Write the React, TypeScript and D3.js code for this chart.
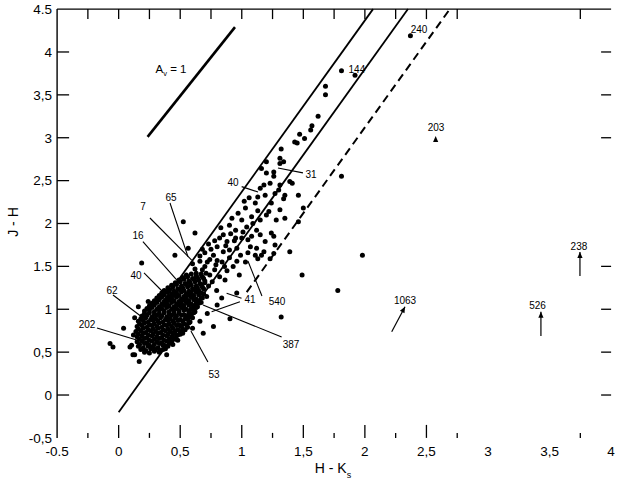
import React from "react";
import * as d3 from "d3";

const W = 618;
const H = 486;

// Axis tick values / labels
const xLabelValues = [-0.5, 0, 0.5, 1, 1.5, 2, 2.5, 3, 3.5, 4];
const xLabelTexts = ["-0.5", "0", "0,5", "1", "1,5", "2", "2,5", "3", "3,5", "4"];
const yLabelValues = [-0.5, 0, 0.5, 1, 1.5, 2, 2.5, 3, 3.5, 4, 4.5];
const yLabelTexts = ["-0,5", "0", "0,5", "1", "1.5", "2", "2,5", "3", "3,5", "4", "4.5"];
const xMajorBottom = [0, 0.5, 1, 1.5, 2, 2.5];
const xMinorBottom = [-0.25, 0.25, 0.75, 1.25, 1.75, 2.25, 2.75, 3.75];
const xTopTicks = [-0.25, 0, 0.25, 0.5, 0.75, 1, 1.25, 1.5, 1.75, 2, 2.25, 2.5, 2.75, 3.75];
const yLeftTicks = [0, 0.5, 1, 1.5, 2, 2.5, 3, 3.5, 4];
const yRightTicks = [0, 0.5, 1, 1.5, 3, 3.5, 4];

// Dense central cluster (H-Ks, J-H)
const clusterPoints: [number, number][] = [
  [0.21, 0.50], [0.25, 0.49], [0.29, 0.51], [0.33, 0.50], [0.36, 0.53],
  [0.16, 0.57], [0.20, 0.55], [0.24, 0.57], [0.28, 0.56], [0.32, 0.55], [0.36, 0.58], [0.40, 0.57],
  [0.15, 0.62], [0.19, 0.63], [0.23, 0.61], [0.27, 0.63], [0.31, 0.62], [0.35, 0.61], [0.39, 0.63], [0.43, 0.62], [0.46, 0.65],
  [0.15, 0.68], [0.19, 0.69], [0.23, 0.67], [0.27, 0.69], [0.31, 0.68], [0.35, 0.67], [0.39, 0.69], [0.43, 0.68], [0.47, 0.69], [0.50, 0.71],
  [0.14, 0.74], [0.18, 0.75], [0.22, 0.73], [0.26, 0.75], [0.30, 0.74], [0.34, 0.73], [0.38, 0.75], [0.42, 0.74], [0.46, 0.75], [0.50, 0.74], [0.54, 0.76],
  [0.15, 0.80], [0.19, 0.81], [0.23, 0.79], [0.27, 0.81], [0.31, 0.80], [0.35, 0.79], [0.39, 0.81], [0.43, 0.80], [0.47, 0.81], [0.51, 0.80], [0.55, 0.82], [0.58, 0.85],
  [0.16, 0.86], [0.20, 0.87], [0.24, 0.85], [0.28, 0.87], [0.32, 0.86], [0.36, 0.85], [0.40, 0.87], [0.44, 0.86], [0.48, 0.87], [0.52, 0.86], [0.56, 0.88], [0.60, 0.90],
  [0.19, 0.92], [0.23, 0.93], [0.27, 0.91], [0.31, 0.93], [0.35, 0.92], [0.39, 0.91], [0.43, 0.93], [0.47, 0.92], [0.51, 0.93], [0.55, 0.92], [0.59, 0.94], [0.62, 0.97],
  [0.21, 0.98], [0.25, 0.99], [0.29, 0.97], [0.33, 0.99], [0.37, 0.98], [0.41, 0.97], [0.45, 0.99], [0.49, 0.98], [0.53, 0.99], [0.57, 0.98], [0.61, 1.00], [0.64, 1.03],
  [0.25, 1.04], [0.29, 1.05], [0.33, 1.03], [0.37, 1.05], [0.41, 1.04], [0.45, 1.03], [0.49, 1.05], [0.53, 1.04], [0.57, 1.05], [0.61, 1.04], [0.65, 1.07],
  [0.29, 1.10], [0.33, 1.11], [0.37, 1.09], [0.41, 1.11], [0.45, 1.10], [0.49, 1.09], [0.53, 1.11], [0.57, 1.10], [0.61, 1.11], [0.65, 1.10], [0.68, 1.13],
  [0.33, 1.16], [0.37, 1.17], [0.41, 1.15], [0.45, 1.17], [0.49, 1.16], [0.53, 1.15], [0.57, 1.17], [0.61, 1.16], [0.65, 1.17], [0.69, 1.18],
  [0.37, 1.22], [0.41, 1.23], [0.45, 1.21], [0.49, 1.23], [0.53, 1.22], [0.57, 1.21], [0.61, 1.23], [0.65, 1.22], [0.69, 1.24],
  [0.43, 1.28], [0.47, 1.29], [0.51, 1.27], [0.55, 1.29], [0.59, 1.28], [0.63, 1.27], [0.67, 1.29], [0.70, 1.31],
  [0.49, 1.34], [0.53, 1.35], [0.57, 1.33], [0.61, 1.35], [0.65, 1.34], [0.69, 1.36],
  [0.55, 1.40], [0.59, 1.41], [0.63, 1.39], [0.67, 1.41], [0.71, 1.42],
];

// Further cluster members lying between the ones above
const clusterCore: [number, number][] = [
  [0.18, 0.53], [0.22, 0.52], [0.26, 0.54], [0.30, 0.53], [0.34, 0.52], [0.38, 0.54],
  [0.17, 0.59], [0.21, 0.60], [0.25, 0.58], [0.29, 0.59], [0.33, 0.60], [0.37, 0.58], [0.41, 0.60], [0.44, 0.59],
  [0.17, 0.65], [0.21, 0.66], [0.25, 0.64], [0.29, 0.65], [0.33, 0.66], [0.37, 0.64], [0.41, 0.65], [0.45, 0.66], [0.48, 0.64],
  [0.16, 0.71], [0.20, 0.72], [0.24, 0.70], [0.28, 0.71], [0.32, 0.72], [0.36, 0.70], [0.40, 0.71], [0.44, 0.72], [0.48, 0.70], [0.52, 0.72],
  [0.16, 0.77], [0.20, 0.78], [0.24, 0.76], [0.28, 0.77], [0.32, 0.78], [0.36, 0.76], [0.40, 0.77], [0.44, 0.78], [0.48, 0.76], [0.52, 0.77], [0.56, 0.79],
  [0.17, 0.83], [0.21, 0.84], [0.25, 0.82], [0.29, 0.83], [0.33, 0.84], [0.37, 0.82], [0.41, 0.83], [0.45, 0.84], [0.49, 0.82], [0.53, 0.83], [0.57, 0.84],
  [0.18, 0.89], [0.22, 0.90], [0.26, 0.88], [0.30, 0.89], [0.34, 0.90], [0.38, 0.88], [0.42, 0.89], [0.46, 0.90], [0.50, 0.88], [0.54, 0.89], [0.58, 0.91],
  [0.21, 0.95], [0.25, 0.96], [0.29, 0.94], [0.33, 0.95], [0.37, 0.96], [0.41, 0.94], [0.45, 0.95], [0.49, 0.96], [0.53, 0.94], [0.57, 0.95], [0.61, 0.96],
  [0.23, 1.01], [0.27, 1.02], [0.31, 1.00], [0.35, 1.01], [0.39, 1.02], [0.43, 1.00], [0.47, 1.01], [0.51, 1.02], [0.55, 1.00], [0.59, 1.01], [0.63, 1.02],
  [0.27, 1.07], [0.31, 1.08], [0.35, 1.06], [0.39, 1.07], [0.43, 1.08], [0.47, 1.06], [0.51, 1.07], [0.55, 1.08], [0.59, 1.06], [0.63, 1.07], [0.67, 1.08],
  [0.31, 1.13], [0.35, 1.14], [0.39, 1.12], [0.43, 1.13], [0.47, 1.14], [0.51, 1.12], [0.55, 1.13], [0.59, 1.14], [0.63, 1.12], [0.67, 1.13],
  [0.35, 1.19], [0.39, 1.20], [0.43, 1.18], [0.47, 1.19], [0.51, 1.20], [0.55, 1.18], [0.59, 1.19], [0.63, 1.20], [0.67, 1.19],
  [0.40, 1.25], [0.44, 1.26], [0.48, 1.24], [0.52, 1.25], [0.56, 1.26], [0.60, 1.24], [0.64, 1.25], [0.68, 1.26],
  [0.46, 1.31], [0.50, 1.32], [0.54, 1.30], [0.58, 1.31], [0.62, 1.32], [0.66, 1.30], [0.70, 1.33],
  [0.52, 1.37], [0.56, 1.38], [0.60, 1.36], [0.64, 1.37], [0.68, 1.38],
  [0.12, 0.70], [0.13, 0.90], [0.60, 0.78], [0.66, 0.86], [0.24, 1.09], [0.73, 1.27],
];

// Sources along the reddening band
const bandPoints: [number, number][] = [
  [1.45, 2.94], [1.56, 3.09], [1.31, 2.70], [1.34, 2.72], [1.16, 2.64], [1.20, 2.59], [1.26, 2.55],
  [1.39, 2.49], [1.23, 2.47], [1.31, 2.45], [1.30, 2.39], [1.15, 2.41], [1.13, 2.31], [1.19, 2.33],
  [1.11, 2.24], [1.03, 2.18], [1.08, 2.08], [1.00, 2.04], [1.15, 2.04], [1.20, 2.10], [1.31, 2.16],
  [1.28, 2.04], [1.12, 1.92], [1.04, 1.96], [0.95, 1.92], [0.95, 1.83], [1.00, 1.83], [1.05, 1.81],
  [1.08, 1.85], [1.15, 1.87], [0.85, 1.87], [0.82, 1.83], [0.88, 1.79], [0.80, 1.73], [0.85, 1.67],
  [0.77, 1.63], [0.90, 1.69], [0.96, 1.71], [0.99, 1.63], [1.07, 1.73], [1.12, 1.71], [1.11, 1.63],
  [1.24, 1.89], [1.46, 2.33], [1.34, 2.29], [1.22, 2.14], [1.16, 1.63], [1.35, 2.06], [1.46, 2.02],
  [1.27, 1.75], [1.18, 1.67], [1.13, 1.59], [1.50, 2.18], [1.26, 1.85], [1.19, 1.79], [1.26, 1.65],
  [1.23, 1.59], [1.26, 2.60], [1.20, 2.72], [1.31, 2.76], [1.18, 2.45],
  [0.62, 1.47], [0.70, 1.50], [0.78, 1.46], [0.66, 1.56], [0.74, 1.58], [0.84, 1.55], [0.90, 1.60],
  [0.70, 1.66], [0.80, 1.57], [0.93, 1.50], [0.60, 1.53], [0.75, 1.70], [0.88, 1.45], [1.03, 1.55],
  [0.98, 1.40], [0.82, 1.38], [0.76, 1.32], [0.74, 1.40],
  [0.66, 1.62], [0.72, 1.55], [0.79, 1.52], [0.86, 1.50], [0.68, 1.70], [0.73, 1.76], [0.78, 1.80],
  [0.83, 1.95], [0.90, 1.98], [0.92, 2.06], [0.97, 2.12], [1.02, 2.26], [1.06, 2.30], [0.87, 1.74],
  [0.94, 1.80], [1.01, 1.90], [0.91, 1.88], [0.63, 1.42], [0.68, 1.46], [0.96, 1.56], [1.05, 1.66],
  [1.09, 2.00], [1.13, 2.15], [1.24, 2.24], [1.27, 2.35],
];

// Isolated sources
const outerPoints: [number, number][] = [
  [2.37, 4.19], [1.81, 3.78], [1.92, 3.73], [1.68, 3.60], [1.68, 3.50], [1.62, 3.25], [1.57, 3.14],
  [1.47, 3.04], [1.51, 2.99], [1.43, 2.95], [1.32, 2.87], [1.81, 2.55], [1.41, 2.47], [1.35, 2.33],
  [1.98, 1.63], [1.78, 1.22], [1.49, 1.40], [1.32, 0.91], [1.39, 1.67],
  [0.525, 2.02], [0.62, 1.89], [0.457, 1.63], [0.565, 1.71], [0.187, 1.54], [0.16, 1.03],
  [0.77, 0.80], [0.687, 0.72], [0.904, 0.89], [0.864, 1.34], [0.796, 1.22], [0.715, 1.15],
  [0.837, 1.13], [0.959, 1.19], [0.39, 0.47], [-0.07, 0.60], [-0.046, 0.56], [0.105, 0.58],
  [0.13, 0.47], [0.167, 0.39], [0.04, 0.78], [0.116, 0.47], [0.092, 0.56], [0.72, 0.95], [0.80, 1.05],
];

// Reddening lines [x0, y0, x1, y1]
const solidLines: [number, number, number, number][] = [
  [0.35, 1.07, 2.066, 4.5],
  [0.0, -0.2, 2.35, 4.5],
];
const dashedLines: [number, number, number, number][] = [[1.04, 1.2, 2.69, 4.5]];
const avVector: [number, number, number, number] = [0.235, 3.01, 0.945, 4.29];

// Source labels: text, label centre, optional leader lines
const labelTexts = ["240", "144", "203", "31", "40", "540", "41", "387", "53", "202", "62", "40", "16", "7", "65", "1063", "238", "526"];
const labelX = [2.44, 1.935, 2.578, 1.562, 0.929, 1.286, 1.067, 1.40, 0.774, -0.257, -0.054, 0.141, 0.157, 0.197, 0.425, 2.326, 3.739, 3.402];
const labelY = [4.26, 3.80, 3.125, 2.577, 2.484, 1.096, 1.12, 0.595, 0.245, 0.828, 1.224, 1.40, 1.866, 2.204, 2.309, 1.108, 1.738, 1.05];
const leaders: [number, number, number, number][] = [
  [1.497, 2.59, 1.294, 2.647],
  [0.999, 2.43, 1.132, 2.367],
  [1.164, 1.155, 1.05, 1.563],
  [0.998, 1.128, 0.877, 1.186],
  [0.985, 1.088, 0.755, 0.971],
  [1.324, 0.676, 0.685, 1.05],
  [0.725, 0.385, 0.587, 0.746],
  [-0.176, 0.781, 0.146, 0.641],
  [-0.046, 1.166, 0.189, 0.91],
  [0.206, 1.423, 0.352, 1.213],
  [0.197, 1.788, 0.484, 1.321],
  [0.254, 2.064, 0.593, 1.574],
  [0.417, 2.239, 0.563, 1.613],
];
const limitArrows: [number, number, number, number][] = [
  [2.218, 0.738, 2.326, 1.03],
  [3.747, 1.388, 3.747, 1.668],
  [3.43, 0.688, 3.43, 0.972],
];
const markers203: [number, number][] = [[2.575, 3.0]];

const FONT = "'Liberation Sans', Arial, Helvetica, sans-serif";

export default function App() {
  const x = d3.scaleLinear().domain([-0.5, 4]).range([57.1, 611.1]);
  const y = d3.scaleLinear().domain([-0.5, 4.5]).range([437.9, 9.1]);
  const line = d3.line<[number, number]>().x((d) => x(d[0])).y((d) => y(d[1]));

  const arrowHead = (x0: number, y0: number, x1: number, y1: number) => {
    const px0 = x(x0), py0 = y(y0), px1 = x(x1), py1 = y(y1);
    const a = Math.atan2(py1 - py0, px1 - px0);
    const L = 6, Wd = 2.6;
    const bx = px1 - L * Math.cos(a), by = py1 - L * Math.sin(a);
    const p = [
      [px1, py1],
      [bx + Wd * Math.sin(a), by - Wd * Math.cos(a)],
      [bx - Wd * Math.sin(a), by + Wd * Math.cos(a)],
    ];
    return `M${p[0][0]},${p[0][1]}L${p[1][0]},${p[1][1]}L${p[2][0]},${p[2][1]}Z`;
  };

  const allPoints = [...clusterPoints, ...clusterCore, ...bandPoints, ...outerPoints];

  return (
    <svg
      width={W}
      height={H}
      style={{ position: "absolute", left: 0, top: 0, background: "#fff" }}
      fontFamily={FONT}
    >
      <rect x={0} y={0} width={W} height={H} fill="#fff" />
      {/* frame: left and top */}
      <line x1={x(-0.5)} x2={x(-0.5)} y1={y(4.5)} y2={y(-0.5)} stroke="#000" strokeWidth={1.4} />
      <line x1={x(-0.5)} x2={x(4)} y1={y(4.5)} y2={y(4.5)} stroke="#000" strokeWidth={1.4} />

      {/* bottom ticks */}
      {xMajorBottom.map((v) => (
        <line key={"bM" + v} x1={x(v)} x2={x(v)} y1={y(-0.5)} y2={y(-0.5) - 13} stroke="#000" strokeWidth={1.3} />
      ))}
      {xMinorBottom.map((v) => (
        <line key={"bm" + v} x1={x(v)} x2={x(v)} y1={y(-0.5)} y2={y(-0.5) - 5} stroke="#000" strokeWidth={1.3} />
      ))}
      {/* top ticks */}
      {xTopTicks.map((v) => (
        <line key={"t" + v} x1={x(v)} x2={x(v)} y1={y(4.5)} y2={y(4.5) + 10} stroke="#000" strokeWidth={1.3} />
      ))}
      {/* left ticks */}
      {yLeftTicks.map((v) => (
        <line key={"l" + v} x1={x(-0.5)} x2={x(-0.5) + 12} y1={y(v)} y2={y(v)} stroke="#000" strokeWidth={1.3} />
      ))}
      {/* right ticks */}
      {yRightTicks.map((v) => (
        <line key={"r" + v} x1={x(4) - 10} x2={x(4)} y1={y(v)} y2={y(v)} stroke="#000" strokeWidth={1.3} />
      ))}

      {/* tick labels */}
      {xLabelValues.map((v, i) => (
        <text key={"xl" + i} x={x(v)} y={456} textAnchor="middle" fontSize={13.5} fill="#000">
          {xLabelTexts[i]}
        </text>
      ))}
      {yLabelValues.map((v, i) => (
        <text key={"yl" + i} x={52} y={y(v)} dy="0.36em" textAnchor="end" fontSize={13.5} fill="#000">
          {yLabelTexts[i]}
        </text>
      ))}

      {/* axis titles */}
      <text x={333} y={473} textAnchor="middle" fontSize={14} fill="#000">
        H - K<tspan fontSize={9} dy={5}>s</tspan>
      </text>
      <text transform="translate(18,222) rotate(-90)" textAnchor="middle" fontSize={14} fill="#000">
        J - H
      </text>

      {/* reddening band lines */}
      {solidLines.map((l, i) => (
        <path key={"s" + i} d={line([[l[0], l[1]], [l[2], l[3]]])!} stroke="#000" strokeWidth={1.8} fill="none" />
      ))}
      {dashedLines.map((l, i) => (
        <path key={"d" + i} d={line([[l[0], l[1]], [l[2], l[3]]])!} stroke="#000" strokeWidth={2} strokeDasharray="8,5" fill="none" />
      ))}
      <path d={line([[avVector[0], avVector[1]], [avVector[2], avVector[3]]])!} stroke="#000" strokeWidth={2.6} fill="none" />
      <text x={x(0.3)} y={y(3.755)} fontSize={11.5} fill="#000">
        A<tspan fontSize={7.5} dy={3}>v</tspan>
        <tspan dy={-3}> = 1</tspan>
      </text>

      {/* points */}
      {allPoints.map((p, i) => (
        <circle key={"p" + i} cx={x(p[0])} cy={y(p[1])} r={2.5} fill="#000" />
      ))}
      {markers203.map((p, i) => (
        <path key={"m" + i} d={arrowHead(p[0], p[1] - 0.05, p[0], p[1] + 0.02)} fill="#000" />
      ))}

      {/* leaders */}
      {leaders.map((l, i) => (
        <path key={"ld" + i} d={line([[l[0], l[1]], [l[2], l[3]]])!} stroke="#000" strokeWidth={1.1} fill="none" />
      ))}
      {/* limit arrows */}
      {limitArrows.map((a, i) => (
        <g key={"a" + i}>
          <path d={line([[a[0], a[1]], [a[2], a[3]]])!} stroke="#000" strokeWidth={1.2} fill="none" />
          <path d={arrowHead(a[0], a[1], a[2], a[3])} fill="#000" />
        </g>
      ))}
      {/* source labels */}
      {labelTexts.map((t, i) => (
        <text key={"lb" + i} x={x(labelX[i])} y={y(labelY[i])} dy="0.36em" textAnchor="middle" fontSize={10} fill="#000">
          {t}
        </text>
      ))}
    </svg>
  );
}
